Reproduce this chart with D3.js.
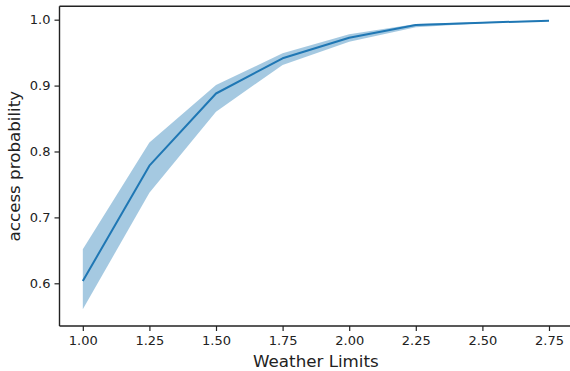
<!DOCTYPE html>
<html>
<head>
<meta charset="utf-8">
<script src="https://cdn.jsdelivr.net/npm/d3@7"></script>
<style>
html,body{margin:0;padding:0;background:#fff;}
svg{display:block;}
text{font-family:"DejaVu Sans",sans-serif;}
</style>
</head>
<body>
<svg id="chart" width="570" height="371"></svg>
<script>
const weatherLimits = [1.00, 1.25, 1.50, 1.75, 2.00, 2.25, 2.50, 2.75];
const meanProb  = [0.6035, 0.7785, 0.8880, 0.9414, 0.9727, 0.9920, 0.9955, 0.9985];
const upperProb = [0.6516, 0.8135, 0.9010, 0.9490, 0.9780, 0.9935, 0.9965, 0.9990];
const lowerProb = [0.5605, 0.7375, 0.8604, 0.9313, 0.9666, 0.9885, 0.9945, 0.9980];
const xTicks = [1.00, 1.25, 1.50, 1.75, 2.00, 2.25, 2.50, 2.75];
const yTicks = [0.6, 0.7, 0.8, 0.9, 1.0];
const xLabel = "Weather Limits";
const yLabel = "access probability";

(function () {
const svg = d3.select("#chart");
const mLeft = 59.5, mRight = 572.3, mTop = 6.3, mBottom = 326;

const x = d3.scaleLinear().domain([0.9125, 2.8375]).range([mLeft, mRight]);
const y = d3.scaleLinear().domain([0.5352, 1.0203]).range([mBottom, mTop]);

const data = weatherLimits.map((w, i) => ({w, m: meanProb[i], hi: upperProb[i], lo: lowerProb[i]}));

svg.append("path")
  .datum(data)
  .attr("fill", "#1f77b4")
  .attr("fill-opacity", 0.4)
  .attr("stroke", "none")
  .attr("d", d3.area().x(d => x(d.w)).y0(d => y(d.lo)).y1(d => y(d.hi)));

svg.append("path")
  .datum(data)
  .attr("fill", "none")
  .attr("stroke", "#1f77b4")
  .attr("stroke-width", 2)
  .attr("stroke-linejoin", "round")
  .attr("d", d3.line().x(d => x(d.w)).y(d => y(d.m)));

const xAxis = svg.append("g")
  .attr("transform", `translate(0,${mBottom})`)
  .call(d3.axisBottom(x).tickValues(xTicks).tickFormat(d3.format(".2f")).tickSize(5).tickPadding(5));
const yAxis = svg.append("g")
  .attr("transform", `translate(${mLeft},0)`)
  .call(d3.axisLeft(y).tickValues(yTicks).tickFormat(d3.format(".1f")).tickSize(5).tickPadding(4));

[xAxis, yAxis].forEach(g => {
  g.select(".domain").remove();
  g.selectAll(".tick line").attr("stroke", "#222").attr("stroke-width", 1.2);
  g.selectAll(".tick text").attr("fill", "#222").style("font-size", "13px");
});

svg.append("line").attr("x1", mLeft).attr("x2", mLeft).attr("y1", mTop).attr("y2", mBottom)
  .attr("stroke", "#222").attr("stroke-width", 1.4);
svg.append("line").attr("x1", mLeft).attr("x2", mRight).attr("y1", mBottom).attr("y2", mBottom)
  .attr("stroke", "#222").attr("stroke-width", 1.4);
svg.append("line").attr("x1", mLeft).attr("x2", mRight).attr("y1", mTop).attr("y2", mTop)
  .attr("stroke", "#222").attr("stroke-width", 1.4);

svg.append("text")
  .attr("x", (mLeft + mRight) / 2).attr("y", 367)
  .attr("text-anchor", "middle").attr("fill", "#222")
  .style("font-size", "16.7px").text(xLabel);

svg.append("text")
  .attr("transform", `translate(20,${(mTop + mBottom) / 2}) rotate(-90)`)
  .attr("text-anchor", "middle").attr("fill", "#222")
  .style("font-size", "16.7px").text(yLabel);
})();
</script>
</body>
</html>
